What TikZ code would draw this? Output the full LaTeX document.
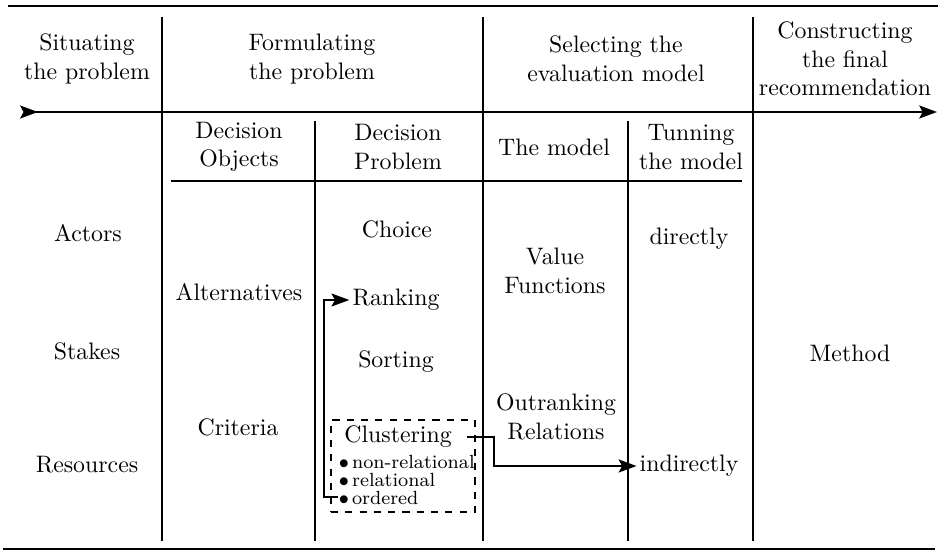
\documentclass[tikz,border=0pt]{standalone}
\usetikzlibrary{arrows.meta}
\begin{document}
\begin{tikzpicture}[x=0.42pt,y=-0.42pt,line width=0.7pt,
        tip/.style={-{Stealth[length=7.5pt,width=5.5pt,inset=1.5pt]}}]
        \useasboundingbox (0,0) rectangle (938,554);
        % rules and columns
        \draw[line width=1pt] (8,6) -- (938,6);
        \draw[line width=1pt] (3,549) -- (935,549);
        \draw[{Stealth[length=7.5pt,width=5.5pt,inset=1.5pt,reversed]}-{Stealth[length=7.5pt,width=5.5pt,inset=1.5pt]}] (20,112) -- (937,112);
        \draw (171,181) -- (742,181);
        \foreach \x in {162,483,753}
            \draw (\x,17) -- (\x,541);
        \foreach \x in {315,628}
            \draw (\x,121) -- (\x,541);
        \begin{scope}[every node/.style={align=center,inner sep=1pt}]
            \node (sit) at (87,59) {Situating\\the problem};
            \node (form) at (312,59) {Formulating\\the problem};
            \node (sel) at (616,59) {Selecting the\\evaluation model};
            \node (cons) at (845,59) {Constructing\\the final\\recommendation};
            \node (obj) at (239,147) {Decision\\Objects};
            \node (prob) at (398,147) {Decision\\Problem};
            \node (model) at (554,147) {The model};
            \node (tun) at (691,147) {Tunning\\the model};
            \node (actors) at (88,233) {Actors};
            \node (stakes) at (87,351) {Stakes};
            \node (res) at (87,465) {Resources};
            \node (alt) at (239,292) {Alternatives};
            \node (crit) at (238,427) {Criteria};
            \node (choice) at (397,229) {Choice};
            \node (ranking) at (396,300) {Ranking};
            \node (sorting) at (396,362) {Sorting};
            \node (clustering) at (398,437) {Clustering};
            \node (value) at (555,271) {Value\\Functions};
            \node (outr) at (556,417) {Outranking\\Relations};
            \node (direct) at (689,239) {directly};
            \node (indirect) at (689,466) {indirectly};
            \node (method) at (850,353) {Method};
        \end{scope}
        \node[anchor=west,align=left,inner sep=0pt,font=\fontsize{8}{7.6}\selectfont] (items) at (338,480)
            {$\bullet$\,non-relational\\$\bullet$\,relational\\$\bullet$\,ordered};
        \coordinate (ordered) at (338,497);
        \node[draw,dashed,minimum width=60.5pt,minimum height=38.6pt] (clbox) at (403,466) {};
        \draw[tip] (ordered) -- ++(-14,0) |- (ranking.west);
        \draw[tip] (clustering.east) ++(12,0) -- ++(27,0) |- (indirect.west);
\end{tikzpicture}
\end{document}
